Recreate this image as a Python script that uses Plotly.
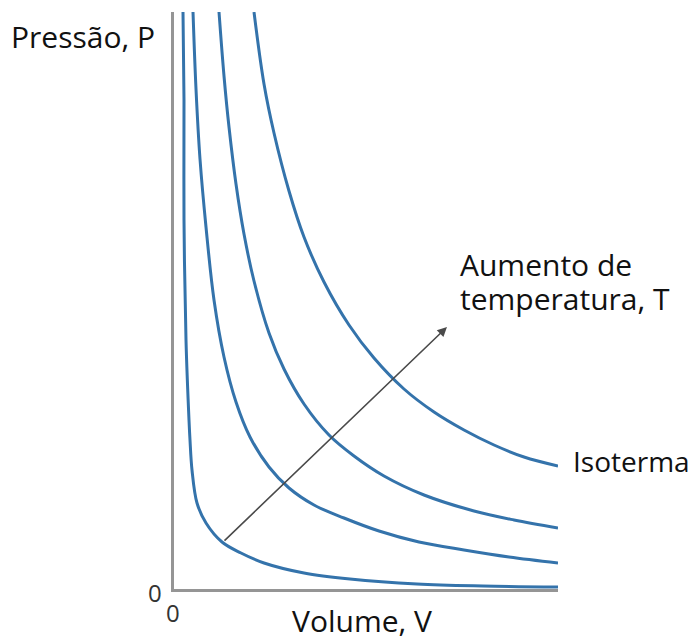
import plotly.graph_objects as go

# Isotherm curves (Volume, Pressure) in arbitrary units
v1 = [9, 10, 10, 12, 15, 16, 18, 23, 32, 48, 67, 90, 130, 176, 243, 309, 384]
p1 = [577, 489, 369, 249, 169, 149, 119, 86, 66, 47, 36, 26, 16, 10, 5, 3, 2]

v2 = [19, 22, 26, 32, 40, 50, 62, 76, 95, 115, 140, 170, 205, 245, 290, 335, 384]
p2 = [577, 500, 430, 362, 289, 232, 187, 152, 122, 101, 84, 71, 58, 47, 39, 32, 26]

v3 = [45, 50, 55, 62, 70, 80, 95, 110, 130, 155, 180, 210, 250, 300, 340, 384]
p3 = [577, 513, 462, 405, 355, 308, 256, 220, 185, 154, 133, 113, 94, 78, 69, 61]

v4 = [80, 90, 100, 115, 130, 150, 175, 200, 230, 260, 290, 320, 350, 384]
p4 = [577, 505, 456, 398, 352, 307, 264, 231, 200, 177, 159, 144, 132, 123]

curves = [(v1, p1), (v2, p2), (v3, p3), (v4, p4)]

x_max = 384
y_max = 577

FONT = "Open Sans"
BLUE = "#3473ab"
TEXT = "#111111"

fig = go.Figure()
for v, p in curves:
    fig.add_trace(go.Scatter(
        x=v, y=p, mode="lines",
        line=dict(color=BLUE, width=3, shape="spline", smoothing=1.0),
        hoverinfo="skip", showlegend=False,
    ))

fig.update_layout(
    width=692, height=632,
    margin=dict(l=166, r=142, t=4, b=51),
    paper_bgcolor="white", plot_bgcolor="white",
    showlegend=False,
    xaxis=dict(range=[0, x_max], showgrid=False, zeroline=False,
               showticklabels=False, ticks="", showline=True,
               linecolor="#959595", linewidth=2.5, fixedrange=True),
    yaxis=dict(range=[0, y_max], showgrid=False, zeroline=False,
               showticklabels=False, ticks="", showline=True,
               linecolor="#959595", linewidth=2.5, fixedrange=True),
    font=dict(family=FONT, color=TEXT),
)


def label(text, x, y, xanchor, size=30, color=TEXT):
    return dict(x=x, y=y, xref="paper", yref="paper", text=text,
                showarrow=False, xanchor=xanchor, yanchor="middle",
                font=dict(size=size, family=FONT, color=color))


ann = [
    label("Pressão, P", -0.43, 0.957, "left"),
    label("Volume, V", 0.49, -0.055, "center"),
    label("0", -0.049, -0.006, "center", size=24, color="#333333"),
    label("0", -0.003, -0.041, "center", size=24, color="#333333"),
    label("Aumento de", 0.74, 0.562, "left"),
    label("temperatura, T", 0.74, 0.504, "left"),
    label("Isoterma", 1.033, 0.222, "left", size=28),
]
# Arrow showing increasing temperature
ann.append(dict(x=273, y=262, ax=49, ay=47, xref="x", yref="y",
                axref="x", ayref="y", text="", showarrow=True,
                arrowhead=2, arrowsize=1.2, arrowwidth=1.6,
                arrowcolor="#4a4a4a"))
fig.update_layout(annotations=ann)

fig.write_html("out.html", config={"displayModeBar": False})
